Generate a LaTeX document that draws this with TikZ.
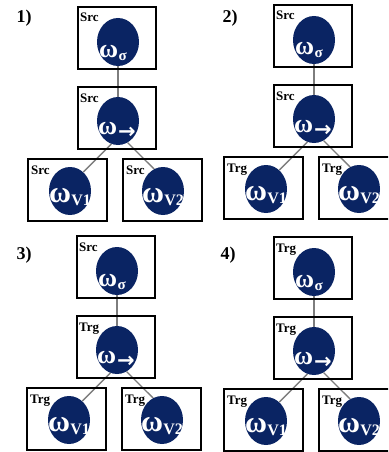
\documentclass[tikz,border=0pt]{standalone}
\usepackage{fontspec}
\setmainfont{Liberation Serif}
\newfontfamily\arrowfont{DejaVu Sans}
\usetikzlibrary{shapes.geometric,backgrounds}
\definecolor{navy}{RGB}{10,36,99}
\definecolor{linkgray}{RGB}{125,125,125}

\tikzset{
  frame/.style={draw=black, line width=1.7pt, rectangle, inner sep=0pt,
    minimum height=62pt, anchor=north west},
  blob/.style={ellipse, fill=navy, minimum width=42pt, minimum height=48pt, inner sep=0pt},
  tag/.style={font=\fontsize{13}{13}\selectfont\bfseries, anchor=base west, inner sep=0pt},
  link/.style={draw=linkgray, line width=1.3pt},
  num/.style={font=\fontsize{18}{18}\selectfont\bfseries, anchor=base, inner sep=0pt},
  sym/.style={text=white, font=\bfseries, inner sep=0pt, anchor=base}
}

% omega with a lowered index: size, index size, index
\newcommand\wsub[3]{{\fontsize{#1}{#1}\selectfont ω}\kern0.5pt\raisebox{-3pt}{\fontsize{#2}{#2}\selectfont #3}}
% omega with an arrow index
\newcommand\warrow[1]{{\fontsize{#1}{#1}\selectfont ω}\kern1pt\raisebox{-4pt}{\arrowfont\bfseries\fontsize{21}{21}\selectfont →}}

% one tree: prefix, x, y, tags of the four boxes
\newcommand\tree[7]{%
  \begin{scope}[shift={(#2,#3)}]
    \node[frame, minimum width=78pt] (#1a) at (0,0) {};
    \node[frame, minimum width=78pt] (#1b) at (0,80) {};
    \node[frame, minimum width=79pt] (#1c) at (-50,152) {};
    \node[frame, minimum width=79pt] (#1d) at (45,152) {};
    \node[tag] (#1ta) at (3,16) {#4};
    \node[tag] (#1tb) at (3,96) {#5};
    \node[tag] (#1tc) at (-46,168) {#6};
    \node[tag] (#1td) at (49,168) {#7};
    \node[blob] (#1A) at (41,36) {};
    \node[blob] (#1B) at (41,115) {};
    \node[blob] (#1C) at (-7,185) {};
    \node[blob] (#1D) at (86,185) {};
    \node[sym] (#1sA) at (36,51) {\wsub{26}{15}{σ}};
    \node[sym] (#1sB) at (40,128) {\warrow{26}};
    \node[sym] (#1sC) at (-7,196) {\wsub{30}{16}{V1}};
    \node[sym] (#1sD) at (86,196) {\wsub{30}{16}{V2}};
    \begin{pgfonlayer}{background}
      \draw[link] (#1A.south) -- (#1B.north);
      \draw[link] (#1B.254) -- (#1C.55);
      \draw[link] (#1B.294) -- (#1D.112);
    \end{pgfonlayer}
  \end{scope}}

\begin{document}
\begin{tikzpicture}[x=1pt,y=-1pt]
  \useasboundingbox (0,0) rectangle (388,452);
  \clip (0,0) rectangle (388,452);
  \tree{p}{77}{6}{Src}{Src}{Src}{Src}
  \tree{q}{273}{4}{Src}{Src}{Trg}{Trg}
  \tree{r}{76}{235}{Src}{Trg}{Trg}{Trg}
  \tree{s}{273}{236}{Trg}{Trg}{Trg}{Trg}
  \node[num] (n1) at (24,23) {1)};
  \node[num] (n2) at (230,23) {2)};
  \node[num] (n3) at (24,259) {3)};
  \node[num] (n4) at (228,259) {4)};
\end{tikzpicture}
\end{document}
